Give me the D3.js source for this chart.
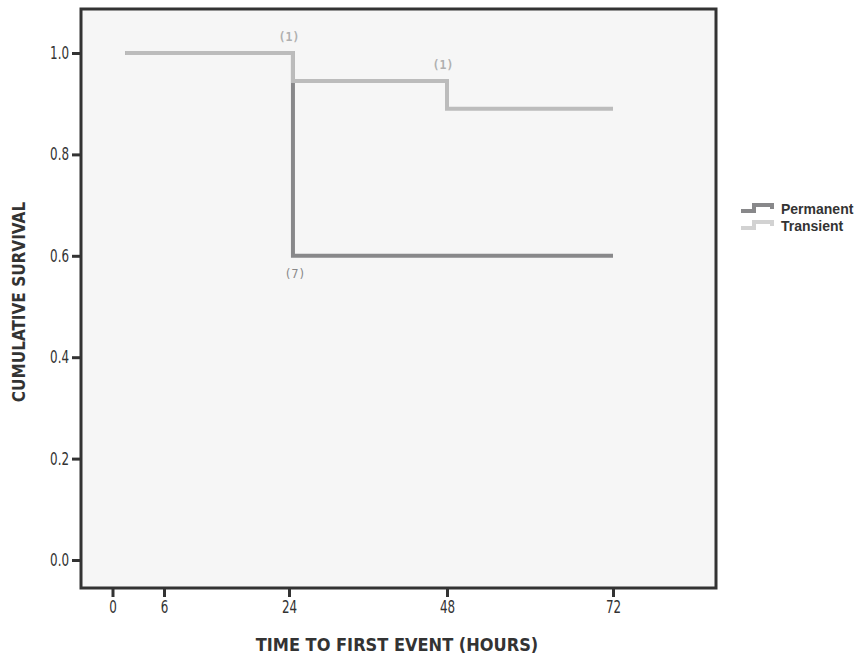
<!DOCTYPE html>
<html><head><meta charset="utf-8">
<script src="https://cdn.jsdelivr.net/npm/d3@7/dist/d3.min.js"></script>
<style>
html,body{margin:0;padding:0;background:#fff;}
svg{display:block;}
</style></head>
<body><svg id="c" width="859" height="656"></svg>
<script>
// ---- data ----
const xTicks = [0, 6, 24, 48, 72];
const yTicks = [0.0, 0.2, 0.4, 0.6, 0.8, 1.0];
const seriesNames = ["Permanent", "Transient"];
const permanentTimes = [1.5, 24.6, 72];
const permanentSurv = [1.0, 0.6, 0.6];
const transientTimes = [1.5, 24.6, 48, 72];
const transientSurv = [1.0, 0.945, 0.89, 0.89];
const annotationText = ["(1)", "(1)", "(7)"];
const annotationTime = [24.6, 48, 24.6];
const annotationSurv = [1.0, 0.945, 0.6];
const annotationSeries = ["Transient", "Transient", "Permanent"];

// ---- layout ----
const svg = d3.select("#c");
const frame = {x0: 81, x1: 716, y0: 9, y1: 588};
const colors = {Permanent: "#88888a", Transient: "#bcbcbc"};
const legendColors = {Permanent: "#88888a", Transient: "#d2d2d2"};
const font = "'Liberation Sans Narrow','DejaVu Sans Condensed',sans-serif";
const sx = 0.78;

// axis in source is piecewise linear between tick marks
const x = d3.scaleLinear().domain(xTicks).range([112.5, 164, 289, 447, 613]);
const y = d3.scaleLinear().domain([0, 1]).range([560, 53]);

svg.append("rect").attr("x", frame.x0).attr("y", frame.y0)
  .attr("width", frame.x1 - frame.x0).attr("height", frame.y1 - frame.y0)
  .attr("fill", "#f6f6f6");

// axes
const yAxis = d3.axisLeft(y).tickValues(yTicks).tickFormat(d3.format(".1f")).tickSize(9).tickPadding(3);
const gy = svg.append("g").attr("transform", `translate(${frame.x0},0)`).call(yAxis);
gy.select(".domain").remove();
gy.selectAll(".tick line").attr("stroke", "#333").attr("stroke-width", 3);
gy.selectAll(".tick text").attr("font-family", font).attr("font-size", 17).attr("fill", "#333")
  .attr("x", -12 / sx).attr("transform", `scale(${sx},1)`);

const xAxis = d3.axisBottom(x).tickValues(xTicks).tickFormat(d3.format("d")).tickSize(9).tickPadding(4);
const gx = svg.append("g").attr("transform", `translate(0,${frame.y1})`).call(xAxis);
gx.select(".domain").remove();
gx.selectAll(".tick line").attr("stroke", "#333").attr("stroke-width", 3);
gx.selectAll(".tick text").attr("font-family", font).attr("font-size", 17).attr("fill", "#333")
  .attr("transform", `scale(${sx},1)`);

// curves
const line = d3.line().x(d => x(d[0])).y(d => y(d[1])).curve(d3.curveStepAfter);
const permData = permanentTimes.map((t, i) => [t, permanentSurv[i]]);
const tranData = transientTimes.map((t, i) => [t, transientSurv[i]]);
svg.append("path").datum(permData).attr("d", line).attr("fill", "none")
  .attr("stroke", colors.Permanent).attr("stroke-width", 4);
svg.append("path").datum(tranData).attr("d", line).attr("fill", "none")
  .attr("stroke", colors.Transient).attr("stroke-width", 4);

// annotations
annotationText.forEach((t, i) => {
  const below = annotationSeries[i] === "Permanent";
  svg.append("text").attr("x", x(annotationTime[i]) + (below ? 2 : -4))
    .attr("y", y(annotationSurv[i]) + (below ? 22 : -12))
    .attr("text-anchor", "middle").attr("font-family", "'DejaVu Sans Mono','Liberation Mono',monospace")
    .attr("font-size", 11.5).attr("font-weight", below ? "normal" : "bold")
    .attr("fill", below ? "#888" : "#b0b0b0").text(t);
});

// frame border
svg.append("rect").attr("x", frame.x0).attr("y", frame.y0)
  .attr("width", frame.x1 - frame.x0).attr("height", frame.y1 - frame.y0)
  .attr("fill", "none").attr("stroke", "#333").attr("stroke-width", 3);

// axis titles
svg.append("text").attr("x", 397).attr("y", 651).attr("text-anchor", "middle")
  .attr("font-family", font).attr("font-weight", "bold").attr("font-size", 18)
  .attr("fill", "#333").text("TIME TO FIRST EVENT (HOURS)");
svg.append("text").attr("transform", "translate(25,302) rotate(-90)").attr("text-anchor", "middle")
  .attr("font-family", font).attr("font-weight", "bold").attr("font-size", 17)
  .attr("fill", "#333").text("CUMULATIVE SURVIVAL");

// legend
seriesNames.forEach((s, i) => {
  const ly = 209 + i * 17;
  const g = svg.append("g").attr("transform", `translate(741,${ly})`);
  g.append("path").attr("d", "M0,2 H13 V-4 H31 V0")
    .attr("fill", "none").attr("stroke", legendColors[s]).attr("stroke-width", 4);
  g.append("text").attr("x", 40).attr("y", 5).attr("font-family", "'Liberation Sans','Arial',sans-serif")
    .attr("font-weight", "bold").attr("font-size", 14).attr("fill", "#333").text(s);
});
</script></body></html>
